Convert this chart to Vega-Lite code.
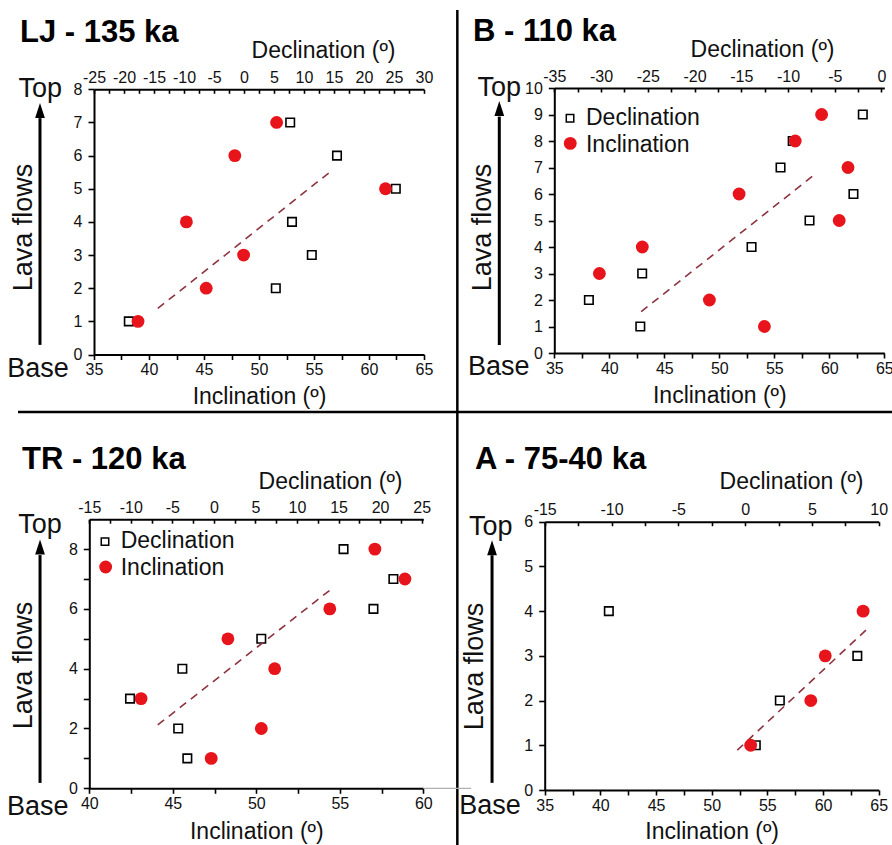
{
  "$schema": "https://vega.github.io/schema/vega-lite/v6.json",
  "width": 892,
  "height": 845,
  "autosize": {"type": "none"},
  "padding": 0,
  "background": "#ffffff",
  "config": {
    "font": "Liberation Sans",
    "view": {"stroke": null},
    "axis": {
      "grid": false,
      "domainColor": "#000000",
      "domainWidth": 2,
      "tickColor": "#000000",
      "tickWidth": 1.6,
      "labelColor": "#111111",
      "labelFont": "Liberation Sans",
      "labelFontSize": 16,
      "titleFont": "Liberation Sans",
      "titleFontSize": 23,
      "titleFontWeight": "normal",
      "titleColor": "#111111",
      "labelOverlap": false,
      "labelFlush": false,
      "labelBound": false
    },
    "text": {"font": "Liberation Sans", "color": "#111111"}
  },
  "datasets": {
    "LJ": [
      {"flow": 1, "declination": -19.2, "inclination": 39.0},
      {"flow": 2, "declination": 5.3, "inclination": 45.2},
      {"flow": 3, "declination": 11.3, "inclination": 48.6},
      {"flow": 4, "declination": 8.0, "inclination": 43.4},
      {"flow": 5, "declination": 25.3, "inclination": 61.5},
      {"flow": 6, "declination": 15.5, "inclination": 47.8},
      {"flow": 7, "declination": 7.7, "inclination": 51.6}
    ],
    "LJ_fit": [
      {"inclination": 40.8, "flow": 1.39},
      {"inclination": 56.7, "flow": 5.57}
    ],
    "B": [
      {"flow": 1, "declination": -25.8, "inclination": 54.1},
      {"flow": 2, "declination": -31.3, "inclination": 49.1},
      {"flow": 3, "declination": -25.6, "inclination": 39.1},
      {"flow": 4, "declination": -13.9, "inclination": 43.0},
      {"flow": 5, "declination": -7.7, "inclination": 60.9},
      {"flow": 6, "declination": -3.0, "inclination": 51.8},
      {"flow": 7, "declination": -10.8, "inclination": 61.7},
      {"flow": 8, "declination": -9.5, "inclination": 56.9},
      {"flow": 9, "declination": -2.0, "inclination": 59.3}
    ],
    "B_fit": [
      {"inclination": 42.9, "flow": 1.56},
      {"inclination": 58.8, "flow": 6.78}
    ],
    "TR": [
      {"flow": 1, "declination": -3.2, "inclination": 47.3},
      {"flow": 2, "declination": -4.3, "inclination": 50.3},
      {"flow": 3, "declination": -10.1, "inclination": 43.1},
      {"flow": 4, "declination": -3.8, "inclination": 51.1},
      {"flow": 5, "declination": 5.7, "inclination": 48.3},
      {"flow": 6, "declination": 19.2, "inclination": 54.4},
      {"flow": 7, "declination": 21.6, "inclination": 58.9},
      {"flow": 8, "declination": 15.6, "inclination": 57.1}
    ],
    "TR_fit": [
      {"inclination": 44.1, "flow": 2.12},
      {"inclination": 54.6, "flow": 6.71}
    ],
    "A": [
      {"flow": 1, "declination": 0.8, "inclination": 53.5},
      {"flow": 2, "declination": 2.6, "inclination": 58.9},
      {"flow": 3, "declination": 8.4, "inclination": 60.2},
      {"flow": 4, "declination": -10.2, "inclination": 63.6}
    ],
    "A_fit": [
      {"inclination": 52.3, "flow": 0.89},
      {"inclination": 64.0, "flow": 3.61}
    ]
  },
  "layer": [
    {
      "layer": [
        {
          "data": {"name": "LJ"},
          "mark": {"type": "point", "shape": "square", "filled": true, "fill": "#ffffff", "stroke": "#000000", "strokeWidth": 1.6, "size": 72, "opacity": 1},
          "encoding": {
            "x": {
              "field": "declination", "type": "quantitative",
              "scale": {"domain": [-25, 30], "range": [94, 424], "nice": false, "zero": false},
              "axis": {"orient": "top", "offset": -89.3, "values": [-25, -22.5, -20, -17.5, -15, -12.5, -10, -7.5, -5, -2.5, 0, 2.5, 5, 7.5, 10, 12.5, 15, 17.5, 20, 22.5, 25, 27.5, 30], "labelExpr": "datum.value % 5 === 0 ? '' + datum.value : ''", "tickSize": -4, "labelPadding": 8, "title": "Declination (º)", "titleX": 323, "titleY": -32.3, "titleAlign": "center", "titleBaseline": "alphabetic", "titleAngle": 0}
            },
            "y": {
              "field": "flow", "type": "quantitative",
              "scale": {"domain": [0, 8], "range": [354.5, 89.3], "nice": false, "zero": false},
              "axis": {"orient": "left", "offset": -94, "values": [0, 1, 2, 3, 4, 5, 6, 7, 8], "labelExpr": "'' + datum.value", "tickSize": 6, "labelPadding": 6, "title": "Lava flows", "titleX": -71, "titleY": 227, "titleAngle": 270, "titleAlign": "center", "titleBaseline": "middle", "titleFontSize": 27}
            }
          }
        },
        {
          "layer": [
            {
              "data": {"name": "LJ_fit"},
              "mark": {"type": "line", "color": "#8e3340", "strokeWidth": 1.6, "strokeDash": [8, 6]},
              "encoding": {
                "x": {
                  "field": "inclination", "type": "quantitative",
                  "scale": {"domain": [35, 65], "range": [94, 424], "nice": false, "zero": false},
                  "axis": {"orient": "bottom", "offset": -490.5, "values": [35, 37.5, 40, 42.5, 45, 47.5, 50, 52.5, 55, 57.5, 60, 62.5, 65], "labelExpr": "datum.value % 5 === 0 ? '' + datum.value : ''", "tickSize": 5, "labelPadding": 2, "title": "Inclination (º)", "titleX": 259, "titleY": 48.5, "titleAlign": "center", "titleBaseline": "alphabetic", "titleAngle": 0}
                },
                "y": {"field": "flow", "type": "quantitative"}
              }
            },
            {
              "data": {"name": "LJ"},
              "mark": {"type": "circle", "size": 165, "color": "#e8141c", "opacity": 1},
              "encoding": {
                "x": {"field": "inclination", "type": "quantitative"},
                "y": {"field": "flow", "type": "quantitative"}
              }
            },
            {
              "data": {"values": [{}]},
              "mark": {"type": "text", "text": "LJ - 135 ka", "fontSize": 31, "fontWeight": "bold", "align": "left", "baseline": "alphabetic", "color": "#000000"},
              "encoding": {"x": {"datum": 28.27}, "y": {"datum": 9.436}}
            },
            {
              "data": {"values": [{}]},
              "mark": {"type": "text", "text": "Top", "fontSize": 27, "align": "right", "baseline": "alphabetic"},
              "encoding": {"x": {"datum": 32.09}, "y": {"datum": 7.77}}
            },
            {
              "data": {"values": [{}]},
              "mark": {"type": "text", "text": "Base", "fontSize": 27, "align": "right", "baseline": "alphabetic"},
              "encoding": {"x": {"datum": 32.7}, "y": {"datum": -0.68}}
            },
            {
              "data": {"values": [{}]},
              "mark": {"type": "rule", "color": "#000000", "strokeWidth": 3},
              "encoding": {"x": {"datum": 30.09}, "y": {"datum": 0.29}, "y2": {"datum": 7.13}}
            },
            {
              "data": {"values": [{}]},
              "mark": {"type": "point", "shape": "M0,-1L0.65,1L-0.65,1Z", "filled": true, "color": "#000000", "size": 225, "opacity": 1},
              "encoding": {"x": {"datum": 30.09}, "y": {"datum": 7.36}}
            },
            {
              "data": {"values": [{}]},
              "mark": {"type": "rule", "color": "#000000", "strokeWidth": 2.5},
              "encoding": {"x": {"datum": 68.03}, "y": {"datum": 10.39}, "y2": {"datum": -14.8}}
            },
            {
              "data": {"values": [{}]},
              "mark": {"type": "rule", "color": "#000000", "strokeWidth": 2.5},
              "encoding": {"x": {"datum": 28.09}, "x2": {"datum": 107.55}, "y": {"datum": -1.735}}
            }
          ]
        }
      ],
      "resolve": {"scale": {"x": "independent"}, "axis": {"x": "independent"}}
    },
    {
      "layer": [
        {
          "data": {"name": "B"},
          "mark": {"type": "point", "shape": "square", "filled": true, "fill": "#ffffff", "stroke": "#000000", "strokeWidth": 1.6, "size": 72, "opacity": 1},
          "encoding": {
            "x": {
              "field": "declination", "type": "quantitative",
              "scale": {"domain": [-35, 0.3], "range": [554.3, 884.3], "nice": false, "zero": false},
              "axis": {"orient": "top", "offset": -88, "values": [-35, -32.5, -30, -27.5, -25, -22.5, -20, -17.5, -15, -12.5, -10, -7.5, -5, -2.5, 0], "labelExpr": "datum.value % 5 === 0 ? '' + datum.value : ''", "tickSize": -4, "labelPadding": 8, "title": "Declination (º)", "titleX": 762, "titleY": -31.3, "titleAlign": "center", "titleBaseline": "alphabetic", "titleAngle": 0}
            },
            "y": {
              "field": "flow", "type": "quantitative",
              "scale": {"domain": [0, 10], "range": [353, 88], "nice": false, "zero": false},
              "axis": {"orient": "left", "offset": -554.3, "values": [0, 1, 2, 3, 4, 5, 6, 7, 8, 9, 10], "labelExpr": "'' + datum.value", "tickSize": 6, "labelPadding": 6, "title": "Lava flows", "titleX": -71.6, "titleY": 227, "titleAngle": 270, "titleAlign": "center", "titleBaseline": "middle", "titleFontSize": 27}
            }
          }
        },
        {
          "layer": [
            {
              "data": {"name": "B_fit"},
              "mark": {"type": "line", "color": "#8e3340", "strokeWidth": 1.6, "strokeDash": [8, 6]},
              "encoding": {
                "x": {
                  "field": "inclination", "type": "quantitative",
                  "scale": {"domain": [35, 65], "range": [554.3, 884.3], "nice": false, "zero": false},
                  "axis": {"orient": "bottom", "offset": -492, "values": [35, 37.5, 40, 42.5, 45, 47.5, 50, 52.5, 55, 57.5, 60, 62.5, 65], "labelExpr": "datum.value % 5 === 0 ? '' + datum.value : ''", "tickSize": 5, "labelPadding": 2, "title": "Inclination (º)", "titleX": 719.3, "titleY": 49, "titleAlign": "center", "titleBaseline": "alphabetic", "titleAngle": 0}
                },
                "y": {"field": "flow", "type": "quantitative"}
              }
            },
            {
              "data": {"name": "B"},
              "mark": {"type": "circle", "size": 165, "color": "#e8141c", "opacity": 1},
              "encoding": {
                "x": {"field": "inclination", "type": "quantitative"},
                "y": {"field": "flow", "type": "quantitative"}
              }
            },
            {
              "data": {"values": [{}]},
              "mark": {"type": "text", "text": "B - 110 ka", "fontSize": 31, "fontWeight": "bold", "align": "left", "baseline": "alphabetic", "color": "#000000"},
              "encoding": {"x": {"datum": 27.61}, "y": {"datum": 11.785}}
            },
            {
              "data": {"values": [{}]},
              "mark": {"type": "text", "text": "Top", "fontSize": 27, "align": "right", "baseline": "alphabetic"},
              "encoding": {"x": {"datum": 31.97}, "y": {"datum": 9.7}}
            },
            {
              "data": {"values": [{}]},
              "mark": {"type": "text", "text": "Base", "fontSize": 27, "align": "right", "baseline": "alphabetic"},
              "encoding": {"x": {"datum": 32.75}, "y": {"datum": -0.83}}
            },
            {
              "data": {"values": [{}]},
              "mark": {"type": "rule", "color": "#000000", "strokeWidth": 3},
              "encoding": {"x": {"datum": 30.0}, "y": {"datum": 0.3}, "y2": {"datum": 8.92}}
            },
            {
              "data": {"values": [{}]},
              "mark": {"type": "point", "shape": "M0,-1L0.65,1L-0.65,1Z", "filled": true, "color": "#000000", "size": 225, "opacity": 1},
              "encoding": {"x": {"datum": 30.0}, "y": {"datum": 9.23}}
            },
            {
              "data": {"values": [{}]},
              "mark": {"type": "point", "shape": "square", "filled": true, "fill": "#ffffff", "stroke": "#000000", "strokeWidth": 1.5, "size": 56, "opacity": 1},
              "encoding": {"x": {"datum": 36.43}, "y": {"datum": 8.86}}
            },
            {
              "data": {"values": [{}]},
              "mark": {"type": "circle", "size": 165, "color": "#e8141c", "opacity": 1},
              "encoding": {"x": {"datum": 36.45}, "y": {"datum": 7.91}}
            },
            {
              "data": {"values": [{}]},
              "mark": {"type": "text", "text": "Declination", "fontSize": 23, "align": "left", "baseline": "alphabetic"},
              "encoding": {"x": {"datum": 37.88}, "y": {"datum": 8.6}}
            },
            {
              "data": {"values": [{}]},
              "mark": {"type": "text", "text": "Inclination", "fontSize": 23, "align": "left", "baseline": "alphabetic"},
              "encoding": {"x": {"datum": 37.88}, "y": {"datum": 7.6}}
            }
          ]
        }
      ],
      "resolve": {"scale": {"x": "independent"}, "axis": {"x": "independent"}}
    },
    {
      "layer": [
        {
          "data": {"name": "TR"},
          "mark": {"type": "point", "shape": "square", "filled": true, "fill": "#ffffff", "stroke": "#000000", "strokeWidth": 1.6, "size": 72, "opacity": 1},
          "encoding": {
            "x": {
              "field": "declination", "type": "quantitative",
              "scale": {"domain": [-15, 25.2], "range": [89.3, 423.3], "nice": false, "zero": false},
              "axis": {"orient": "top", "offset": -519.2, "values": [-15, -12.5, -10, -7.5, -5, -2.5, 0, 2.5, 5, 7.5, 10, 12.5, 15, 17.5, 20, 22.5, 25], "labelExpr": "datum.value % 5 === 0 ? '' + datum.value : ''", "tickSize": -4, "labelPadding": 8, "title": "Declination (º)", "titleX": 330, "titleY": -30.9, "titleAlign": "center", "titleBaseline": "alphabetic", "titleAngle": 0}
            },
            "y": {
              "field": "flow", "type": "quantitative",
              "scale": {"domain": [0, 9], "range": [788.3, 519.2], "nice": false, "zero": false},
              "axis": {"orient": "left", "offset": -89.3, "values": [0, 1, 2, 3, 4, 5, 6, 7, 8], "labelExpr": "datum.value % 2 === 0 ? '' + datum.value : ''", "tickSize": 6, "labelPadding": 6, "title": "Lava flows", "titleX": -66.3, "titleY": 665, "titleAngle": 270, "titleAlign": "center", "titleBaseline": "middle", "titleFontSize": 27}
            }
          }
        },
        {
          "layer": [
            {
              "data": {"name": "TR_fit"},
              "mark": {"type": "line", "color": "#8e3340", "strokeWidth": 1.6, "strokeDash": [8, 6]},
              "encoding": {
                "x": {
                  "field": "inclination", "type": "quantitative",
                  "scale": {"domain": [40, 60], "range": [89.3, 423.3], "nice": false, "zero": false},
                  "axis": {"orient": "bottom", "offset": -56.7, "values": [40, 42.5, 45, 47.5, 50, 52.5, 55, 57.5, 60], "labelExpr": "datum.value % 5 === 0 ? '' + datum.value : ''", "tickSize": 5, "labelPadding": 2, "title": "Inclination (º)", "titleX": 256.3, "titleY": 49.7, "titleAlign": "center", "titleBaseline": "alphabetic", "titleAngle": 0}
                },
                "y": {"field": "flow", "type": "quantitative"}
              }
            },
            {
              "data": {"name": "TR"},
              "mark": {"type": "circle", "size": 165, "color": "#e8141c", "opacity": 1},
              "encoding": {
                "x": {"field": "inclination", "type": "quantitative"},
                "y": {"field": "flow", "type": "quantitative"}
              }
            },
            {
              "data": {"values": [{}]},
              "mark": {"type": "text", "text": "TR - 120 ka", "fontSize": 31, "fontWeight": "bold", "align": "left", "baseline": "alphabetic", "color": "#000000"},
              "encoding": {"x": {"datum": 35.97}, "y": {"datum": 10.67}}
            },
            {
              "data": {"values": [{}]},
              "mark": {"type": "text", "text": "Top", "fontSize": 27, "align": "right", "baseline": "alphabetic"},
              "encoding": {"x": {"datum": 38.35}, "y": {"datum": 8.54}}
            },
            {
              "data": {"values": [{}]},
              "mark": {"type": "text", "text": "Base", "fontSize": 27, "align": "right", "baseline": "alphabetic"},
              "encoding": {"x": {"datum": 38.75}, "y": {"datum": -0.89}}
            },
            {
              "data": {"values": [{}]},
              "mark": {"type": "rule", "color": "#000000", "strokeWidth": 3},
              "encoding": {"x": {"datum": 37.05}, "y": {"datum": 0.18}, "y2": {"datum": 7.8}}
            },
            {
              "data": {"values": [{}]},
              "mark": {"type": "point", "shape": "M0,-1L0.65,1L-0.65,1Z", "filled": true, "color": "#000000", "size": 225, "opacity": 1},
              "encoding": {"x": {"datum": 37.05}, "y": {"datum": 8.07}}
            },
            {
              "data": {"values": [{}]},
              "mark": {"type": "point", "shape": "square", "filled": true, "fill": "#ffffff", "stroke": "#000000", "strokeWidth": 1.5, "size": 56, "opacity": 1},
              "encoding": {"x": {"datum": 40.94}, "y": {"datum": 8.25}}
            },
            {
              "data": {"values": [{}]},
              "mark": {"type": "circle", "size": 165, "color": "#e8141c", "opacity": 1},
              "encoding": {"x": {"datum": 40.98}, "y": {"datum": 7.4}}
            },
            {
              "data": {"values": [{}]},
              "mark": {"type": "text", "text": "Declination", "fontSize": 23, "align": "left", "baseline": "alphabetic"},
              "encoding": {"x": {"datum": 41.88}, "y": {"datum": 8.03}}
            },
            {
              "data": {"values": [{}]},
              "mark": {"type": "text", "text": "Inclination", "fontSize": 23, "align": "left", "baseline": "alphabetic"},
              "encoding": {"x": {"datum": 41.88}, "y": {"datum": 7.13}}
            },
            {
              "data": {"values": [{}]},
              "mark": {"type": "rule", "color": "#b0b0b0", "strokeWidth": 1.2},
              "encoding": {"x": {"datum": 60}, "x2": {"datum": 62.86}, "y": {"datum": 0}}
            }
          ]
        }
      ],
      "resolve": {"scale": {"x": "independent"}, "axis": {"x": "independent"}}
    },
    {
      "layer": [
        {
          "data": {"name": "A"},
          "mark": {"type": "point", "shape": "square", "filled": true, "fill": "#ffffff", "stroke": "#000000", "strokeWidth": 1.6, "size": 72, "opacity": 1},
          "encoding": {
            "x": {
              "field": "declination", "type": "quantitative",
              "scale": {"domain": [-15, 10], "range": [544.7, 878.7], "nice": false, "zero": false},
              "axis": {"orient": "top", "offset": -521.7, "values": [-15, -12.5, -10, -7.5, -5, -2.5, 0, 2.5, 5, 7.5, 10], "labelExpr": "datum.value % 5 === 0 ? '' + datum.value : ''", "tickSize": -4, "labelPadding": 8, "title": "Declination (º)", "titleX": 791, "titleY": -33.7, "titleAlign": "center", "titleBaseline": "alphabetic", "titleAngle": 0}
            },
            "y": {
              "field": "flow", "type": "quantitative",
              "scale": {"domain": [0, 6], "range": [790, 521.7], "nice": false, "zero": false},
              "axis": {"orient": "left", "offset": -544.7, "values": [0, 1, 2, 3, 4, 5, 6], "labelExpr": "'' + datum.value", "tickSize": 6, "labelPadding": 6, "title": "Lava flows", "titleX": -70.7, "titleY": 666, "titleAngle": 270, "titleAlign": "center", "titleBaseline": "middle", "titleFontSize": 27}
            }
          }
        },
        {
          "layer": [
            {
              "data": {"name": "A_fit"},
              "mark": {"type": "line", "color": "#8e3340", "strokeWidth": 1.6, "strokeDash": [8, 6]},
              "encoding": {
                "x": {
                  "field": "inclination", "type": "quantitative",
                  "scale": {"domain": [35, 65], "range": [544.7, 878.7], "nice": false, "zero": false},
                  "axis": {"orient": "bottom", "offset": -55, "values": [35, 37.5, 40, 42.5, 45, 47.5, 50, 52.5, 55, 57.5, 60, 62.5, 65], "labelExpr": "datum.value % 5 === 0 ? '' + datum.value : ''", "tickSize": 5, "labelPadding": 2, "title": "Inclination (º)", "titleX": 711.7, "titleY": 48, "titleAlign": "center", "titleBaseline": "alphabetic", "titleAngle": 0}
                },
                "y": {"field": "flow", "type": "quantitative"}
              }
            },
            {
              "data": {"name": "A"},
              "mark": {"type": "circle", "size": 165, "color": "#e8141c", "opacity": 1},
              "encoding": {
                "x": {"field": "inclination", "type": "quantitative"},
                "y": {"field": "flow", "type": "quantitative"}
              }
            },
            {
              "data": {"values": [{}]},
              "mark": {"type": "text", "text": "A - 75-40 ka", "fontSize": 31, "fontWeight": "bold", "align": "left", "baseline": "alphabetic", "color": "#000000"},
              "encoding": {"x": {"datum": 28.74}, "y": {"datum": 7.17}}
            },
            {
              "data": {"values": [{}]},
              "mark": {"type": "text", "text": "Top", "fontSize": 27, "align": "right", "baseline": "alphabetic"},
              "encoding": {"x": {"datum": 32.12}, "y": {"datum": 5.7}}
            },
            {
              "data": {"values": [{}]},
              "mark": {"type": "text", "text": "Base", "fontSize": 27, "align": "right", "baseline": "alphabetic"},
              "encoding": {"x": {"datum": 32.85}, "y": {"datum": -0.54}}
            },
            {
              "data": {"values": [{}]},
              "mark": {"type": "rule", "color": "#000000", "strokeWidth": 3},
              "encoding": {"x": {"datum": 30.27}, "y": {"datum": 0.16}, "y2": {"datum": 5.25}}
            },
            {
              "data": {"values": [{}]},
              "mark": {"type": "point", "shape": "M0,-1L0.65,1L-0.65,1Z", "filled": true, "color": "#000000", "size": 225, "opacity": 1},
              "encoding": {"x": {"datum": 30.27}, "y": {"datum": 5.42}}
            }
          ]
        }
      ],
      "resolve": {"scale": {"x": "independent"}, "axis": {"x": "independent"}}
    }
  ],
  "resolve": {
    "scale": {"x": "independent", "y": "independent"},
    "axis": {"x": "independent", "y": "independent"}
  }
}
